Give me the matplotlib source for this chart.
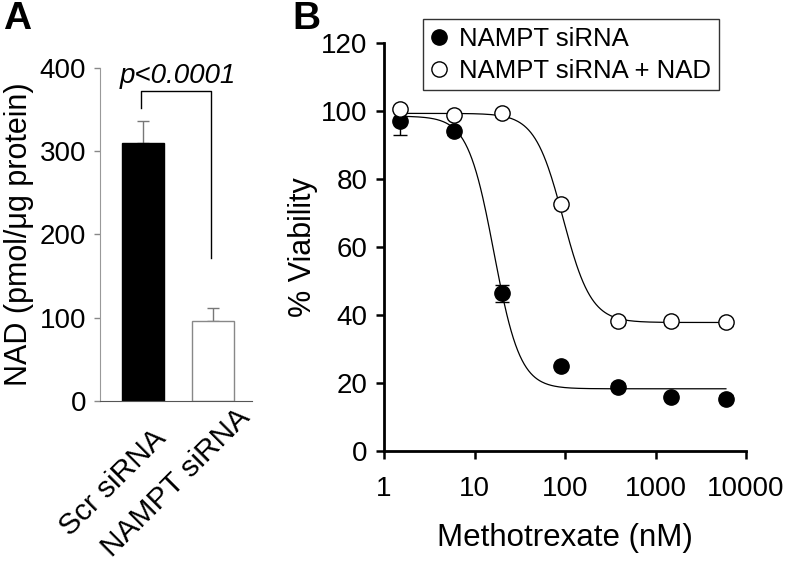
import numpy as np
import matplotlib.pyplot as plt
from matplotlib.transforms import ScaledTranslation

plt.rcParams['font.family'] = ['Liberation Sans', 'DejaVu Sans']

# panel A: NAD levels
groups = ['Scr siRNA', 'NAMPT siRNA']
nad = [310, 96]
nad_err = [26, 16]

# panel B: viability vs methotrexate
dose = [1.5, 6, 20, 90, 390, 1500, 6000]
via_sirna = [97, 94, 46.4, 25, 18.9, 15.9, 15.4]
err_sirna = [4, 1, 2.5, 1, 1, 1, 1]
via_nad = [100.6, 98.8, 99.3, 72.6, 38.2, 38.2, 37.9]
err_nad = [1, 1, 1, 1, 1, 1, 1]

# 4-parameter logistic fits (top, bottom, ec50, hill)
fit_sirna = (98.5, 18.3, 16.4, 3.0)
fit_nad = (99.3, 37.8, 95.0, 2.8)


def logistic(x, top, bottom, ec50, hill):
    return bottom + (top - bottom) / (1 + (x / ec50) ** hill)


fig = plt.figure(figsize=(7.89, 5.62), dpi=100)

# ---------- A ----------
axA = fig.add_axes([0.127, 0.2865, 0.192, 0.5925])
x = np.arange(len(groups))
axA.bar(x, nad, width=0.6, color=['black', 'white'], edgecolor=['black', '#888888'],
        linewidth=1.0, zorder=2)
axA.errorbar(x, nad, yerr=[[0, 0], nad_err], fmt='none', ecolor='#777777',
             elinewidth=1.0, capsize=4, capthick=1.0, zorder=1)
axA.set_xlim(-0.614, 1.55)
axA.set_ylim(0, 400)
axA.set_yticks([0, 100, 200, 300, 400])
axA.tick_params(axis='y', labelsize=20, length=4, color='#888888', width=1, pad=6)
axA.set_xticks(x)
axA.set_xticklabels([])
axA.tick_params(axis='x', length=0)
# rotated group labels, centred below each bar
for xi, lab, dx in zip(x, groups, [-0.30, -0.37]):
    off = ScaledTranslation(dx, -0.82, fig.dpi_scale_trans)
    axA.text(xi, 0, lab, rotation=45, ha='center', va='center', rotation_mode='anchor',
             fontsize=21.5, transform=axA.get_xaxis_transform() + off)
for s in ['top', 'right']:
    axA.spines[s].set_visible(False)
axA.spines['left'].set_color('#999999')
axA.spines['bottom'].set_color('#555555')
axA.set_ylabel('NAD (pmol/μg protein)', fontsize=22, labelpad=4)

# significance bracket
axA.plot([-0.03, -0.03, 0.97, 0.97], [352, 372, 372, 172], color='black', lw=1.0)
axA.text(0.5, 382, 'p<0.0001', style='italic', fontsize=20, ha='center', va='baseline')

# ---------- B ----------
axB = fig.add_axes([0.4867, 0.1975, 0.4588, 0.726])
xx = np.logspace(np.log10(dose[0]), np.log10(dose[-1]), 300)
axB.plot(xx, logistic(xx, *fit_sirna), color='black', lw=0.9)
axB.plot(xx, logistic(xx, *fit_nad), color='black', lw=0.9)
axB.errorbar(dose, via_sirna, yerr=err_sirna, fmt='o', color='black', mfc='black',
             ms=11, elinewidth=1.0, capsize=5, label='NAMPT siRNA', zorder=3)
axB.errorbar(dose, via_nad, yerr=err_nad, fmt='o', color='black', mfc='white',
             mec='black', mew=1.0, ms=11, elinewidth=1.0, capsize=5,
             label='NAMPT siRNA + NAD', zorder=3)
axB.set_xscale('log')
axB.set_xlim(1, 10000)
axB.set_ylim(0, 120)
axB.set_xticks([1, 10, 100, 1000, 10000])
axB.set_xticklabels(['1', '10', '100', '1000', '10000'])
axB.minorticks_off()
axB.set_yticks(range(0, 121, 20))
axB.tick_params(labelsize=20, length=6, width=1.8, pad=6)
axB.tick_params(axis='x', pad=12)
for s in ['top', 'right']:
    axB.spines[s].set_visible(False)
for s in ['left', 'bottom']:
    axB.spines[s].set_linewidth(2.0)
axB.set_xlabel('Methotrexate (nM)', fontsize=22.5, labelpad=15)
axB.set_ylabel('% Viability', fontsize=22, labelpad=2)

handles, labels = axB.get_legend_handles_labels()
handles = [h[0] for h in handles]
leg = axB.legend(handles, labels, loc='upper left', bbox_to_anchor=(0.108, 1.058),
                 fontsize=18.5, frameon=True, fancybox=False, edgecolor='black',
                 handlelength=0.6, handletextpad=0.5, labelspacing=0.3,
                 borderpad=0.3, borderaxespad=0)
leg.get_frame().set_linewidth(1.0)

fig.text(0.004, 0.998, 'A', fontsize=28, fontweight='bold', va='top')
fig.text(0.370, 0.998, 'B', fontsize=28, fontweight='bold', va='top')

fig.savefig('out.png', dpi=100)
